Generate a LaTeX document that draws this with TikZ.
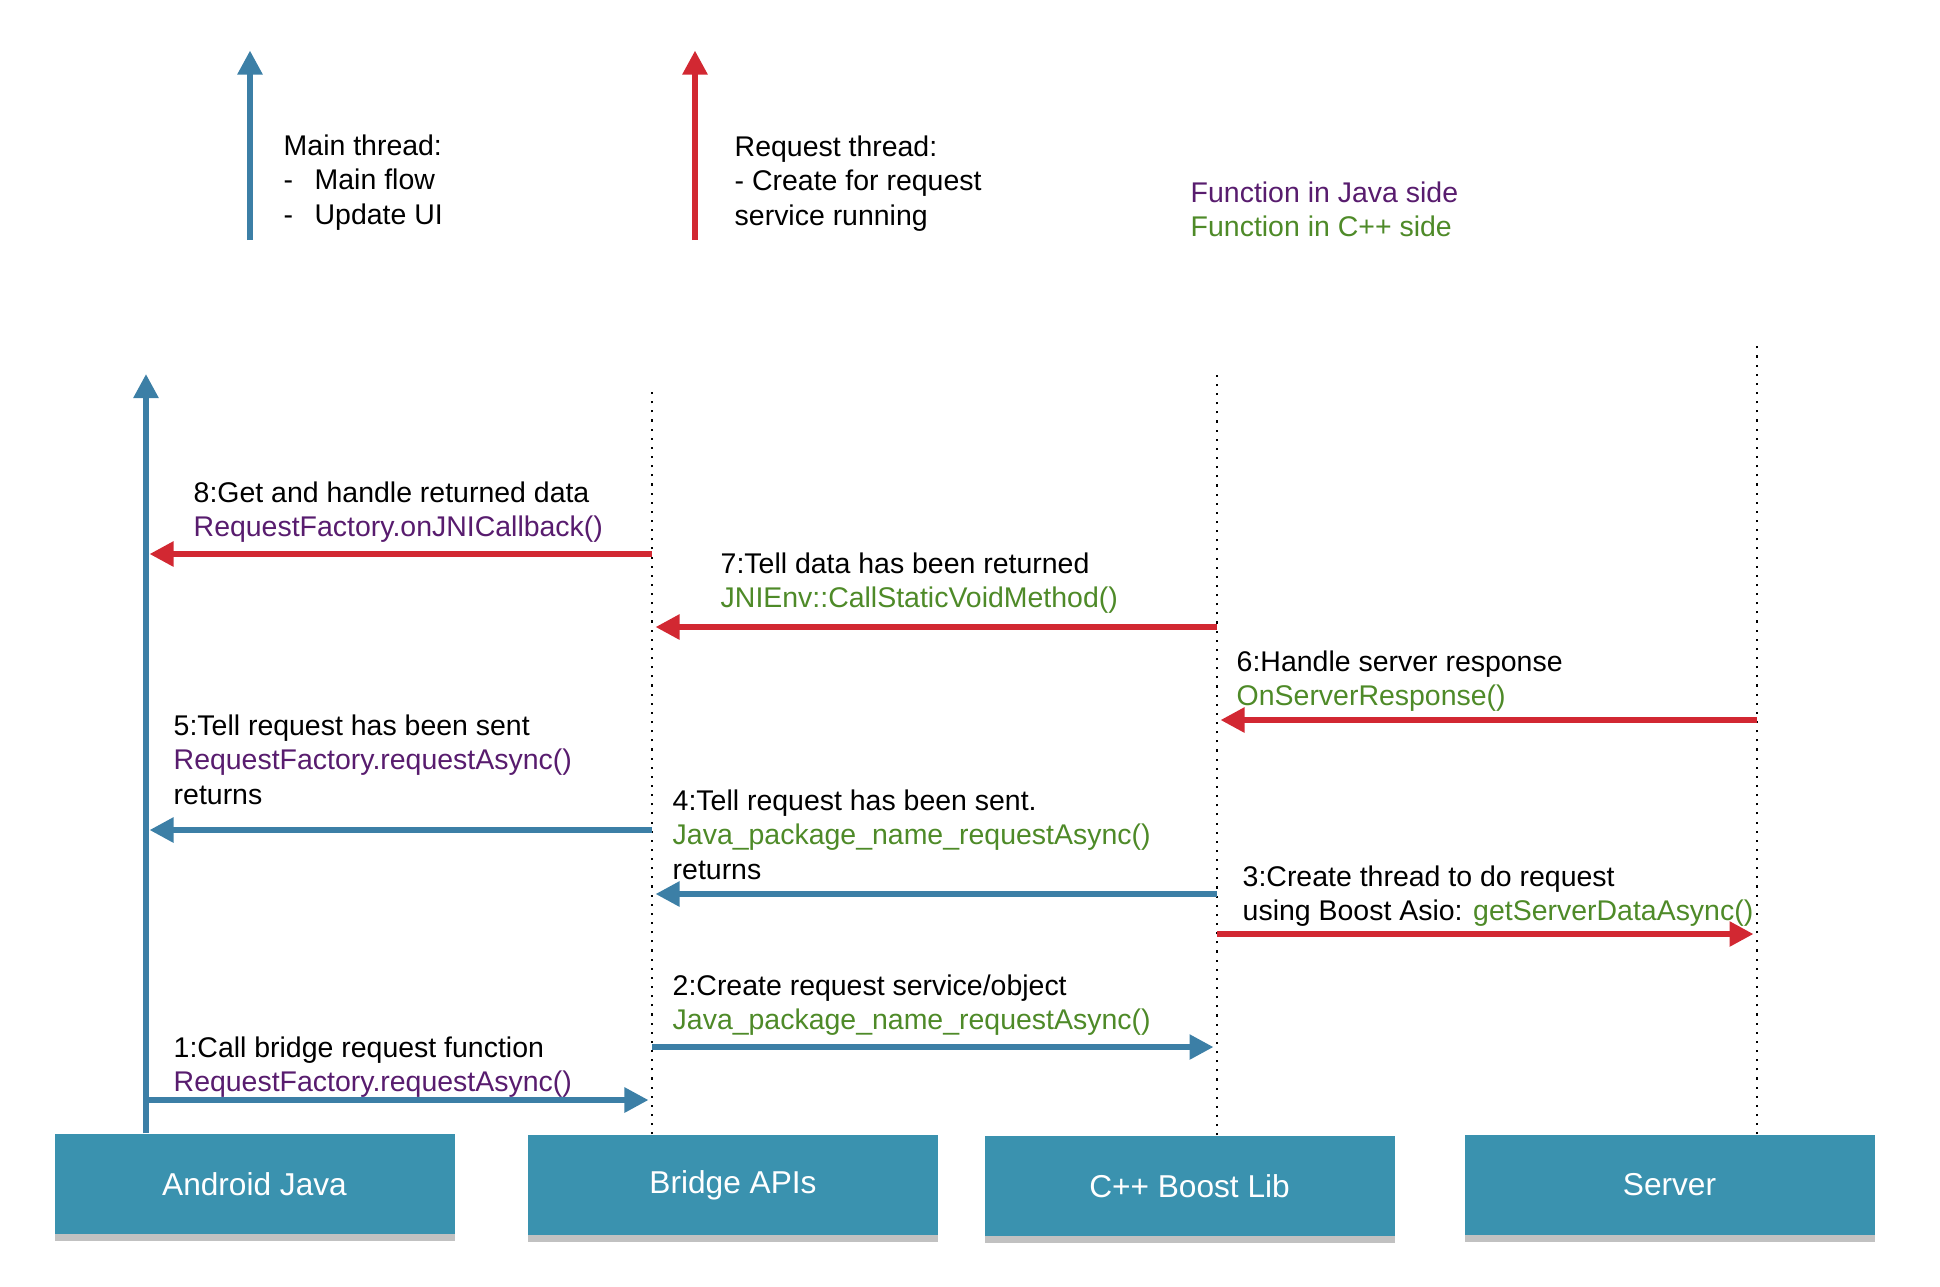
\documentclass[tikz,border=0pt]{standalone}
\usepackage{fontspec}
\setmainfont{Liberation Sans}
\usepackage{tikz}
\usetikzlibrary{arrows.meta,shadows}

\definecolor{mainblue}{RGB}{60,127,166}
\definecolor{reqred}{RGB}{210,40,50}
\definecolor{javapurple}{RGB}{88,28,110}
\definecolor{cppgreen}{RGB}{78,138,40}
\definecolor{boxteal}{RGB}{58,146,175}

\newcommand{\jfn}[1]{\textcolor{javapurple}{#1}}
\newcommand{\cfn}[1]{\textcolor{cppgreen}{#1}}

\tikzset{
    mainflow/.style={line width=1.6pt, mainblue, -{Triangle[length=2.4mm,width=2.4mm]}, shorten >=1pt},
    reqflow/.style={line width=1.6pt, reqred, -{Triangle[length=2.4mm,width=2.4mm]}, shorten >=1pt},
    lifeline/.style={dotted, line width=0.6pt},
    actor/.style={fill=boxteal, text=white, minimum width=4.1cm, minimum height=1cm,
        font=\fontsize{9}{11}\selectfont,
        drop shadow={shadow xshift=0pt, shadow yshift=-0.7mm, opacity=0.35, fill=black!70}},
    msg/.style={anchor=north west, inner sep=0pt, align=left, font=\fontsize{8.1}{9.8}\selectfont},
}

\begin{document}
\begin{tikzpicture}[x=1cm,y=-1cm]
    \useasboundingbox (0,0) rectangle (19.40,12.86);
    % Legend
    \draw[mainflow] (2.50,2.40) -- (2.50,0.47);
    \draw[reqflow] (6.95,2.40) -- (6.95,0.47);
    \node[msg] (mainthr) at (2.83,1.34) {Main thread:\\\makebox[0.31cm][l]{-}Main flow\\\makebox[0.31cm][l]{-}Update UI};
    \node[msg] (reqthr) at (7.34,1.35) {Request thread:\\- Create for request\\service running};
    \node[msg] (fnkey) at (11.90,1.81) {\jfn{Function in Java side}\\\cfn{Function in C++ side}};
    % Actors
    \node[actor, minimum width=4.0cm] (aj) at (2.545,11.84) {Android Java};
    \node[actor] (br) at (7.33,11.85) {Bridge APIs};
    \node[actor] (cb) at (11.895,11.86) {C++ Boost Lib};
    \node[actor] (sv) at (16.695,11.85) {Server};
    % Lifelines
    \coordinate (ajl) at (1.46,3.74);
    \coordinate (brl) at (6.52,3.91);
    \coordinate (cbl) at (12.17,3.71);
    \coordinate (svl) at (17.57,3.46);
    \draw[mainflow, shorten >=0pt] (ajl |- aj.north) -- (ajl);
    \draw[lifeline] (brl |- br.north) -- (brl);
    \draw[lifeline] (cbl |- cb.north) -- (cbl);
    \draw[lifeline] (svl |- sv.north) -- (svl);
    % Messages
    \foreach \n/\y in {1/11.00,2/10.47,3/9.34,4/8.94,5/8.30,6/7.20,7/6.27,8/5.54} {%
        \coordinate (m\n) at (0,\y);
    }
    \draw[mainflow] (ajl |- m1) -- (brl |- m1);
    \draw[mainflow] (brl |- m2) -- (cbl |- m2);
    \draw[reqflow] (cbl |- m3) -- (svl |- m3);
    \draw[mainflow] (cbl |- m4) -- (brl |- m4);
    \draw[mainflow] (brl |- m5) -- (ajl |- m5);
    \draw[reqflow] (svl |- m6) -- (cbl |- m6);
    \draw[reqflow] (cbl |- m7) -- (brl |- m7);
    \draw[reqflow] (brl |- m8) -- (ajl |- m8);
    % Labels
    \node[msg] (l1) at (1.73,10.36) {1:Call bridge request function\\\jfn{RequestFactory.requestAsync()}};
    \node[msg] (l2) at (6.72,9.74) {2:Create request service/object\\\cfn{Java\_package\_name\_requestAsync()}};
    \node[msg] (l3) at (12.42,8.65) {3:Create thread to do request\\using Boost Asio: \cfn{getServerDataAsync()}};
    \node[msg] (l4) at (6.72,7.89) {4:Tell request has been sent.\\\cfn{Java\_package\_name\_requestAsync()}\\returns};
    \node[msg] (l5) at (1.73,7.14) {5:Tell request has been sent\\\jfn{RequestFactory.requestAsync()}\\returns};
    \node[msg] (l6) at (12.36,6.50) {6:Handle server response\\\cfn{OnServerResponse()}};
    \node[msg] (l7) at (7.20,5.52) {7:Tell data has been returned\\\cfn{JNIEnv::CallStaticVoidMethod()}};
    \node[msg] (l8) at (1.93,4.81) {8:Get and handle returned data\\\jfn{RequestFactory.onJNICallback()}};
\end{tikzpicture}
\end{document}
